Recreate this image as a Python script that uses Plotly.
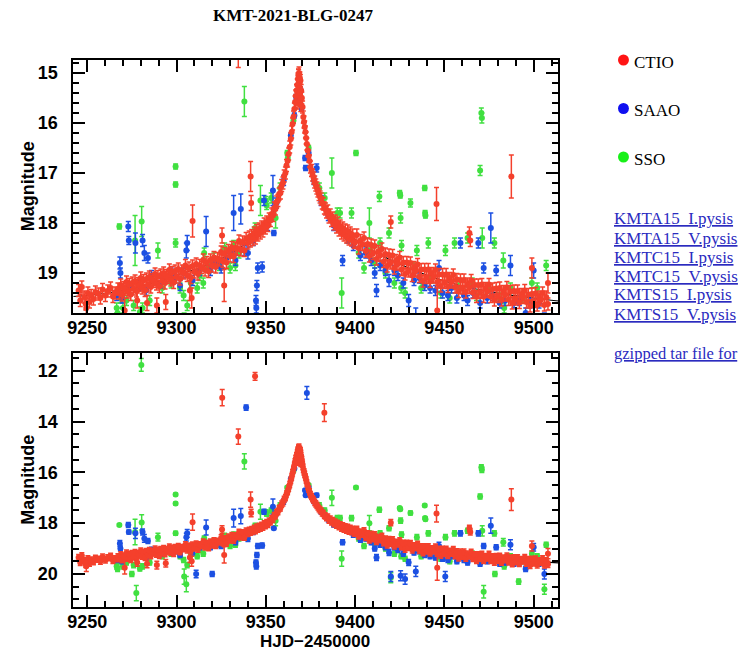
import plotly.graph_objects as go

# ---------------------------------------------------------------- data
TITLE = "KMT-2021-BLG-0247"
X_TITLE = "HJD\u22122450000"
Y_TITLE = "Magnitude"
SITES = ["CTIO", "SAAO", "SSO"]
FILES = ["KMTA15_I.pysis", "KMTA15_V.pysis", "KMTC15_I.pysis",
         "KMTC15_V.pysis", "KMTS15_I.pysis", "KMTS15_V.pysis"]
TAR_TEXT = "gzipped tar file for"

X_RANGE = [9242.3, 9513.9]
TOP_Y_RANGE = [19.8, 14.74]
BOTTOM_Y_RANGE = [21.3, 11.3]
X_TICKS = [9250, 9300, 9350, 9400, 9450, 9500]
TOP_Y_TICKS = [15, 16, 17, 18, 19]
BOTTOM_Y_TICKS = [12, 14, 16, 18, 20]

# model light curve (thin black line under the points)
MODEL_T = [9242, 9255, 9270, 9285, 9300, 9315, 9330, 9340, 9350, 9355, 9360,
           9363, 9365, 9367, 9368.5, 9370, 9372, 9375, 9380, 9385, 9390, 9400,
           9410, 9425, 9440, 9460, 9480, 9500, 9514]
MODEL_MAG = [19.47, 19.43, 19.35, 19.22, 19.04, 18.87, 18.62, 18.37, 18.08,
             17.72, 17.12, 16.6, 16.05, 15.45, 15.0, 15.45, 16.1, 16.85, 17.45,
             17.82, 18.03, 18.33, 18.56, 18.82, 19.04, 19.26, 19.4, 19.5, 19.56]

# CTIO: dense coverage along the light curve
CTIO_BAND_T = [
    9245.2, 9246.1, 9247.0, 9248.3, 9249.2, 9250.4, 9251.3, 9252.2, 9253.5, 9254.6,
    9256.3, 9257.4, 9258.6, 9260.2, 9261.5, 9263.1, 9264.4, 9265.6, 9267.2,
    9268.0, 9268.8, 9269.6, 9270.4, 9271.2, 9272.0, 9272.8, 9273.6, 9274.4, 9275.2,
    9276.0, 9276.8, 9277.6, 9278.4, 9279.2, 9280.0, 9280.8, 9281.6, 9282.4, 9283.2,
    9284.0, 9284.8, 9285.6, 9286.4, 9287.2, 9288.0, 9288.8, 9289.6, 9290.4, 9291.2,
    9292.0, 9292.8, 9293.6, 9294.4, 9295.2, 9296.0, 9296.8, 9297.6, 9298.4, 9299.2,
    9300, 9301, 9302, 9303, 9304, 9305, 9306, 9307, 9308, 9309,
    9310, 9311, 9312, 9313, 9314, 9315, 9316, 9317, 9318, 9319,
    9320, 9321, 9322, 9323, 9324, 9325, 9326, 9327, 9328, 9329,
    9330, 9331, 9332, 9333, 9334, 9335, 9336, 9337, 9338, 9339,
    9340.0, 9340.7, 9341.4, 9342.1, 9342.8, 9343.5, 9344.2, 9344.9, 9345.6, 9346.3,
    9347.0, 9347.7, 9348.4, 9349.1, 9349.8, 9350.5, 9351.2, 9351.9, 9352.6, 9353.3,
    9354.0, 9354.7, 9355.4, 9356.1, 9356.8, 9357.5, 9358.2, 9358.9, 9359.6, 9360.3,
    9361.0, 9361.6, 9362.2, 9362.8, 9363.4, 9364.0, 9364.5, 9365.0, 9365.5, 9366.0,
    9366.4, 9366.8, 9367.2, 9367.6, 9368.0, 9368.3, 9368.6,
    9367.5, 9368.4, 9368.5, 9368.6, 9368.7, 9368.8, 9368.9, 9369.0, 9369.1, 9369.2,
    9369.3, 9369.6, 9369.8,
    9369.4, 9369.8, 9370.2, 9370.6, 9371.0, 9371.4, 9371.8, 9372.2, 9372.6, 9373.0,
    9373.5, 9374.0, 9374.5, 9375.0, 9375.6, 9376.2, 9376.8, 9377.4, 9378.0, 9378.6,
    9379.2, 9379.8, 9380.4, 9381.0, 9381.6, 9382.2, 9382.8, 9383.4, 9384.0, 9384.7,
    9385.4, 9386.1, 9386.8, 9387.5, 9388.2, 9388.9, 9389.6, 9390.3, 9391.0, 9391.7,
    9392.4, 9393.1, 9393.8, 9394.5, 9395.2, 9395.9, 9396.6, 9397.3, 9398.0, 9398.7,
    9399.4,
    9400, 9401, 9402, 9403, 9404, 9405, 9406, 9407, 9408, 9409,
    9410, 9411, 9412, 9413, 9414, 9415, 9416, 9417, 9418, 9419,
    9420, 9421, 9422, 9423, 9424, 9425, 9426, 9427, 9428, 9429,
    9430, 9431, 9432, 9433, 9434, 9435, 9436, 9437, 9438, 9439,
    9440, 9441, 9442, 9443, 9444, 9445, 9446, 9447, 9448, 9449,
    9450, 9451, 9452, 9453, 9454, 9455, 9456, 9457, 9458, 9459,
    9460, 9461, 9462, 9463, 9464, 9465, 9466, 9467, 9468, 9469,
    9470, 9471, 9472, 9473, 9474, 9475, 9476, 9477, 9478, 9479,
    9480, 9481, 9482, 9483, 9484, 9485, 9486, 9487, 9488, 9489,
    9490, 9491, 9492, 9493, 9494, 9495, 9496, 9497, 9498, 9499,
    9500, 9501, 9502, 9503, 9504, 9505, 9506, 9507, 9508,
]
CTIO_BAND_MAG = [
    19.35, 19.55, 19.28, 19.48, 19.62, 19.40, 19.58, 19.45, 19.52, 19.38,
    19.42, 19.50, 19.33, 19.45, 19.36, 19.30, 19.47, 19.40, 19.32,
    19.40, 19.24, 19.44, 19.29, 19.33, 19.18, 19.38, 19.23, 19.43, 19.20,
    19.32, 19.16, 19.36, 19.21, 19.25, 19.10, 19.30, 19.15, 19.35, 19.12,
    19.24, 19.08, 19.28, 19.13, 19.17, 19.02, 19.22, 19.07, 19.27, 19.04,
    19.16, 19.00, 19.20, 19.05, 19.09, 18.94, 19.14, 18.99, 19.19, 18.96,
    19.08, 18.92, 19.12, 18.96, 19.00, 18.85, 19.05, 18.90, 19.09, 18.86,
    18.98, 18.82, 19.02, 18.85, 18.89, 18.74, 18.94, 18.79, 18.97, 18.74,
    18.86, 18.69, 18.88, 18.71, 18.74, 18.58, 18.77, 18.61, 18.79, 18.55,
    18.66, 18.49, 18.67, 18.50, 18.52, 18.36, 18.54, 18.38, 18.55, 18.31,
    18.40, 18.28, 18.36, 18.25, 18.33, 18.20, 18.30, 18.15, 18.24, 18.12,
    18.20, 18.08, 18.16, 18.02, 18.10, 17.98, 18.05, 17.92, 17.95, 17.82,
    17.85, 17.70, 17.72, 17.58, 17.55, 17.42, 17.40, 17.25, 17.20, 17.06,
    17.00, 16.85, 16.76, 16.62, 16.48, 16.32, 16.18, 16.02, 15.88, 15.72,
    15.58, 15.46, 15.35, 15.24, 15.12, 15.04, 15.00,
    15.60, 15.05, 15.15, 15.25, 15.35, 15.45, 15.20, 15.30, 15.10, 15.40,
    15.55, 15.65, 15.50,
    15.15, 15.35, 15.50, 15.68, 15.88, 15.98, 16.08, 16.18, 16.30, 16.42,
    16.55, 16.66, 16.76, 16.88, 16.95, 17.04, 17.10, 17.18, 17.24, 17.30,
    17.36, 17.43, 17.48, 17.52, 17.60, 17.62, 17.70, 17.72, 17.78, 17.76,
    17.88, 17.84, 17.95, 17.90, 18.02, 17.96, 18.08, 18.00, 18.14, 18.06,
    18.20, 18.10, 18.24, 18.14, 18.28, 18.16, 18.32, 18.20, 18.34, 18.24,
    18.38,
    18.39, 18.24, 18.50, 18.35, 18.43, 18.30, 18.56, 18.42, 18.66, 18.44,
    18.61, 18.46, 18.72, 18.57, 18.65, 18.52, 18.77, 18.62, 18.86, 18.64,
    18.80, 18.65, 18.90, 18.75, 18.82, 18.69, 18.93, 18.79, 19.02, 18.79,
    18.96, 18.80, 19.05, 18.89, 18.96, 18.83, 19.07, 18.93, 19.16, 18.93,
    19.09, 18.93, 19.17, 19.01, 19.08, 18.94, 19.18, 19.03, 19.26, 19.03,
    19.19, 19.03, 19.27, 19.11, 19.18, 19.04, 19.28, 19.13, 19.37, 19.14,
    19.30, 19.14, 19.38, 19.22, 19.29, 19.15, 19.39, 19.24, 19.47, 19.24,
    19.39, 19.23, 19.47, 19.31, 19.37, 19.23, 19.47, 19.32, 19.54, 19.31,
    19.47, 19.30, 19.54, 19.37, 19.44, 19.29, 19.53, 19.37, 19.60, 19.36,
    19.52, 19.36, 19.59, 19.43, 19.49, 19.35, 19.58, 19.43, 19.66, 19.42,
    19.57, 19.41, 19.64, 19.48, 19.54, 19.40, 19.64, 19.48, 19.62,
]
CTIO_BAND_ERR = 0.12

# CTIO points away from the main curve
CTIO_OUT_T = [9249.5, 9271.0, 9278.0, 9283.5, 9289.0, 9294.0, 9307.5, 9308.5,
              9309.0, 9325.5, 9326.7, 9325.6, 9334.6, 9341.5, 9341.8, 9344.0,
              9382.8, 9420.0, 9445.6, 9446.0, 9464.0, 9464.5, 9487.5, 9499.0,
              9508.0]
CTIO_OUT_MAG = [19.70, 19.75, 19.55, 19.60, 19.65, 19.58, 19.35, 19.50,
                17.96, 18.25, 19.25, 13.06, 14.59, 17.07, 17.60, 12.22,
                13.65, 17.98, 17.62, 19.75, 18.20, 18.35, 17.07, 18.90,
                19.20]
CTIO_OUT_ERR = [0.20, 0.25, 0.15, 0.15, 0.15, 0.15, 0.20, 0.20,
                0.32, 0.15, 0.32, 0.32, 0.30, 0.30, 0.15, 0.15,
                0.35, 0.12, 0.33, 0.50, 0.12, 0.12, 0.43, 0.20,
                0.20]

SAAO_T = [9266.5, 9268.3, 9268.6, 9269.5, 9273.0, 9273.3, 9274.0, 9277.0, 9279.0,
          9281.0, 9282.0, 9283.0, 9284.0, 9286.0, 9291.0, 9297.0, 9299.0, 9302.0,
          9304.0, 9305.5, 9306.0, 9309.0, 9311.0, 9313.0, 9316.6, 9319.0, 9320.0,
          9322.0, 9325.0, 9328.0, 9331.0, 9332.0, 9333.0, 9336.0, 9338.0, 9339.0,
          9340.0, 9343.0, 9344.5, 9344.7, 9345.0, 9345.5, 9348.0, 9349.0, 9351.0,
          9354.0, 9354.5, 9356.0, 9360.0, 9364.0, 9366.0, 9367.0, 9369.5, 9370.0,
          9372.0, 9372.3, 9373.0, 9374.0, 9377.0, 9378.5, 9381.0, 9385.0, 9388.0,
          9393.0, 9396.0, 9399.0, 9403.0, 9406.0, 9409.0, 9411.0, 9412.0, 9414.0,
          9417.0, 9419.0, 9420.0, 9422.0, 9424.0, 9425.5, 9427.0, 9428.0, 9430.0,
          9433.0, 9434.0, 9436.0, 9439.0, 9442.0, 9445.0, 9447.0, 9449.0, 9450.5,
          9452.0, 9454.0, 9457.0, 9459.0, 9461.0, 9463.0, 9466.0, 9469.0, 9470.0,
          9472.0, 9474.0, 9476.0, 9477.0, 9479.0, 9481.0, 9484.0, 9487.0, 9489.0,
          9492.0, 9495.5, 9498.0, 9500.0, 9503.0, 9506.0]
SAAO_MAG = [19.45, 18.80, 19.00, 19.50, 18.07, 18.35, 19.30, 18.40, 19.25,
            18.35, 18.60, 19.35, 18.70, 19.05, 19.20, 19.00, 19.10, 19.25,
            19.00, 18.55, 18.40, 19.15, 20.00, 18.95, 18.17, 18.95, 20.00,
            18.80, 18.90, 18.70, 18.60, 17.80, 18.75, 17.72, 18.55, 13.45,
            18.60, 18.35, 19.55, 19.70, 19.25, 18.90, 18.88, 17.55, 18.05,
            17.35, 18.20, 17.60, 17.15, 16.25, 15.85, 15.48, 15.35, 15.70,
            16.70, 16.90, 12.87, 16.60, 17.15, 16.90, 17.55, 17.85, 18.05,
            18.75, 18.30, 18.45, 18.65, 18.60, 18.75, 19.00, 19.35, 18.85,
            18.95, 19.15, 20.10, 18.95, 19.05, 20.07, 19.20, 20.20, 19.55,
            19.15, 19.90, 19.10, 19.25, 19.30, 19.35, 18.90, 19.40, 20.10,
            19.45, 19.30, 19.50, 18.40, 19.45, 19.55, 19.40, 18.40, 19.60,
            18.90, 19.50, 18.10, 19.45, 18.95, 19.60, 19.55, 18.85, 19.60,
            19.55, 19.80, 19.60, 18.95, 19.60, 20.00]
SAAO_ERR = [0.10, 0.12, 0.10, 0.10, 0.10, 0.08, 0.10, 0.20, 0.10,
            0.12, 0.15, 0.10, 0.10, 0.10, 0.10, 0.10, 0.10, 0.10,
            0.10, 0.15, 0.15, 0.10, 0.15, 0.10, 0.30, 0.10, 0.10,
            0.10, 0.10, 0.10, 0.10, 0.35, 0.10, 0.30, 0.10, 0.10,
            0.12, 0.10, 0.10, 0.10, 0.10, 0.10, 0.10, 0.10, 0.10,
            0.30, 0.05, 0.10, 0.10, 0.05, 0.05, 0.05, 0.05, 0.05,
            0.05, 0.05, 0.25, 0.05, 0.08, 0.08, 0.10, 0.10, 0.10,
            0.10, 0.10, 0.10, 0.10, 0.10, 0.10, 0.10, 0.12, 0.10,
            0.10, 0.12, 0.20, 0.10, 0.10, 0.20, 0.10, 0.20, 0.12,
            0.10, 0.20, 0.10, 0.10, 0.10, 0.10, 0.15, 0.10, 0.20,
            0.10, 0.10, 0.10, 0.10, 0.10, 0.10, 0.10, 0.10, 0.10,
            0.10, 0.10, 0.30, 0.10, 0.10, 0.10, 0.10, 0.20, 0.10,
            0.10, 0.10, 0.10, 0.15, 0.10, 0.20]

SSO_T = [9266.5, 9267.0, 9268.0, 9268.5, 9270.0, 9272.0, 9275.0, 9276.0, 9276.8,
         9277.5, 9279.5, 9280.3, 9280.5, 9281.0, 9285.0, 9289.6, 9292.0, 9297.0,
         9299.5, 9299.5, 9299.5, 9302.0, 9304.0, 9304.3, 9305.5, 9306.0, 9308.0,
         9311.6, 9313.0, 9315.0, 9315.5, 9318.0, 9321.0, 9324.0, 9327.0, 9330.0,
         9332.0, 9333.0, 9335.0, 9338.0, 9344.0, 9347.0, 9350.0, 9350.5, 9353.0,
         9355.5, 9358.0, 9362.0, 9362.3, 9365.5, 9374.0, 9380.0, 9383.0, 9387.0,
         9390.0, 9391.6, 9392.5, 9396.0, 9398.0, 9400.5, 9402.0, 9405.0, 9408.0,
         9408.5, 9411.0, 9413.6, 9414.0, 9417.0, 9419.0, 9420.0, 9422.0, 9425.0,
         9425.3, 9425.5, 9426.0, 9425.8, 9428.0, 9431.0, 9433.0, 9434.6, 9437.0,
         9439.0, 9439.2, 9439.4, 9441.0, 9443.0, 9448.0, 9450.6, 9453.0, 9455.7,
         9458.0, 9463.0, 9465.6, 9468.0, 9470.0, 9470.7, 9471.0, 9471.2, 9472.0,
         9474.0, 9478.0, 9478.3, 9481.0, 9483.0, 9483.5, 9487.0, 9491.6, 9494.0,
         9499.0, 9502.0, 9506.0, 9507.0]
SSO_MAG = [19.70, 19.80, 18.07, 19.50, 19.70, 19.55, 20.00, 19.65, 18.35,
           20.75, 19.78, 11.77, 17.97, 19.70, 19.55, 18.55, 19.30, 19.20,
           16.87, 17.23, 18.40, 19.30, 19.45, 20.10, 20.40, 19.65, 19.20,
           19.30, 19.05, 19.20, 18.60, 18.85, 18.70, 18.85, 18.50, 18.90,
           18.45, 18.85, 18.60, 15.57, 18.10, 17.55, 17.55, 17.65, 17.50,
           17.90, 17.30, 16.60, 16.70, 15.95, 16.50, 17.30, 17.50, 17.00,
           17.80, 17.80, 19.40, 18.30, 17.80, 16.60, 18.60, 18.90, 18.00,
           18.55, 18.80, 17.47, 18.40, 19.00, 18.20, 20.15, 19.20, 17.40,
           17.45, 17.90, 18.45, 19.30, 19.40, 17.60, 18.90, 18.55, 19.30,
           17.30, 17.80, 17.85, 18.40, 19.10, 19.40, 18.55, 19.50, 18.40,
           19.30, 18.30, 19.20, 19.45, 16.95, 15.80, 15.90, 18.30, 20.70,
           19.30, 18.40, 20.00, 19.50, 18.75, 19.70, 19.30, 20.30, 19.50,
           19.20, 19.30, 20.60, 18.85]
SSO_ERR = [0.10, 0.10, 0.05, 0.10, 0.10, 0.10, 0.10, 0.10, 0.50,
           0.30, 0.10, 0.25, 0.30, 0.10, 0.10, 0.15, 0.10, 0.10,
           0.05, 0.05, 0.08, 0.10, 0.10, 0.30, 0.30, 0.10, 0.10,
           0.10, 0.10, 0.10, 0.10, 0.10, 0.10, 0.10, 0.10, 0.10,
           0.10, 0.10, 0.10, 0.30, 0.10, 0.30, 0.08, 0.08, 0.10,
           0.20, 0.10, 0.05, 0.05, 0.05, 0.05, 0.10, 0.10, 0.30,
           0.10, 0.10, 0.30, 0.10, 0.10, 0.05, 0.10, 0.10, 0.30,
           0.10, 0.10, 0.10, 0.10, 0.10, 0.10, 0.20, 0.10, 0.05,
           0.05, 0.10, 0.10, 0.10, 0.10, 0.08, 0.10, 0.10, 0.10,
           0.05, 0.05, 0.05, 0.10, 0.10, 0.10, 0.10, 0.10, 0.10,
           0.10, 0.10, 0.10, 0.10, 0.10, 0.10, 0.10, 0.20, 0.25,
           0.10, 0.10, 0.10, 0.10, 0.15, 0.10, 0.10, 0.10, 0.10,
           0.10, 0.10, 0.20, 0.10]

# ---------------------------------------------------------------- style
W, H = 742, 652
RED, BLUE, GREEN = "#f4402c", "#1c50e2", "#40e040"
DOT_RED, DOT_BLUE, DOT_GREEN = "#ff1414", "#1010f0", "#18f018"
LINK = "#2b2bbf"
SANS = "Liberation Sans"
SERIF = "Liberation Serif"

PLOT_L, PLOT_R = 68, 557
TOP_T, TOP_B = 60, 313
BOT_T, BOT_B = 353, 607


def px(x):
    return x / W


def py(y):
    return 1 - y / H


fig = go.Figure()


def add_points(t, mag, err, color, xa, ya):
    fig.add_trace(go.Scatter(
        x=t, y=mag, mode="markers", xaxis=xa, yaxis=ya,
        marker=dict(color=color, size=6, symbol="circle", line=dict(width=0)),
        error_y=dict(type="data", array=err, color=color, thickness=1.5, width=2.5),
        showlegend=False, hoverinfo="skip", cliponaxis=True,
    ))


for xa, ya in (("x", "y"), ("x2", "y2")):
    fig.add_trace(go.Scatter(x=MODEL_T, y=MODEL_MAG, mode="lines", xaxis=xa, yaxis=ya,
                             line=dict(color="black", width=1.2, shape="spline"),
                             showlegend=False, hoverinfo="skip"))
    add_points(SSO_T, SSO_MAG, SSO_ERR, GREEN, xa, ya)
    add_points(SAAO_T, SAAO_MAG, SAAO_ERR, BLUE, xa, ya)
    add_points(CTIO_BAND_T, CTIO_BAND_MAG, [CTIO_BAND_ERR] * len(CTIO_BAND_T), RED, xa, ya)
    add_points(CTIO_OUT_T, CTIO_OUT_MAG, CTIO_OUT_ERR, RED, xa, ya)

tickfont = dict(family=SANS, size=18, color="black", weight="bold")
common = dict(showline=True, linewidth=2, linecolor="black", mirror="allticks",
              ticks="inside", ticklen=12, tickwidth=1.5, tickcolor="black",
              showgrid=False, zeroline=False, tickfont=tickfont)

xdom = [px(PLOT_L), px(PLOT_R)]
for name, anchor, dom, yr, yt, ymin in (
        ("", "y", [py(TOP_B), py(TOP_T)], TOP_Y_RANGE, TOP_Y_TICKS, 0.2),
        ("2", "y2", [py(BOT_B), py(BOT_T)], BOTTOM_Y_RANGE, BOTTOM_Y_TICKS, 0.5)):
    fig.layout["xaxis" + name] = dict(
        domain=xdom, range=X_RANGE, anchor=anchor, tickmode="array", tickvals=X_TICKS,
        ticklabelstandoff=-3,
        minor=dict(ticks="inside", ticklen=6, tickwidth=1.5, tickcolor="black",
                   tickmode="linear", tick0=9240, dtick=10),
        **common)
    fig.layout["yaxis" + name] = dict(
        domain=dom, range=yr, anchor="x" + name, tickmode="array", tickvals=yt,
        ticklabelstandoff=10,
        minor=dict(ticks="inside", ticklen=6, tickwidth=1.5, tickcolor="black",
                   tickmode="linear", tick0=10, dtick=ymin),
        **common)

ann = []
ann.append(dict(text="<b>" + TITLE + "</b>", x=px(289), y=py(16), xref="paper", yref="paper",
                showarrow=False, font=dict(family=SERIF, size=17, color="black"),
                xanchor="center", yanchor="middle"))
for yc in ((TOP_T + TOP_B) / 2, (BOT_T + BOT_B) / 2):
    ann.append(dict(text=Y_TITLE, x=px(22), y=py(yc), xref="paper", yref="paper",
                    textangle=-90, showarrow=False, xanchor="center", yanchor="middle",
                    font=dict(family=SANS, size=18, color="black", weight="bold")))
ann.append(dict(text=X_TITLE, x=px(312), y=py(653), xref="paper", yref="paper",
                showarrow=False, xanchor="center", yanchor="bottom",
                font=dict(family=SANS, size=17, color="black", weight="bold")))

shapes = []
for i, (site, dot) in enumerate(zip(SITES, (DOT_RED, DOT_BLUE, DOT_GREEN))):
    yc = 60 + i * 48.5
    shapes.append(dict(type="circle", xref="paper", yref="paper",
                       x0=px(617), x1=px(628), y0=py(yc + 5.5), y1=py(yc - 5.5),
                       fillcolor=dot, line=dict(width=0)))
    ann.append(dict(text=site, x=px(631), y=py(yc + 2), xref="paper", yref="paper",
                    showarrow=False, xanchor="left", yanchor="middle",
                    font=dict(family=SERIF, size=17, color="black")))

for i, f in enumerate(FILES):
    ann.append(dict(text='<span style="text-decoration:underline">' + f + "</span>",
                    x=px(611), y=py(219 + i * 19), xref="paper", yref="paper",
                    showarrow=False, xanchor="left", yanchor="middle",
                    font=dict(family=SERIF, size=17, color=LINK)))
ann.append(dict(text='<span style="text-decoration:underline">' + TAR_TEXT + "</span>",
                x=px(611), y=py(353), xref="paper", yref="paper",
                showarrow=False, xanchor="left", yanchor="middle",
                font=dict(family=SERIF, size=16.5, color=LINK)))

fig.update_layout(width=W, height=H, margin=dict(l=0, r=0, t=0, b=0),
                  paper_bgcolor="white", plot_bgcolor="white",
                  annotations=ann, shapes=shapes, showlegend=False)

fig.write_html("out.html")
